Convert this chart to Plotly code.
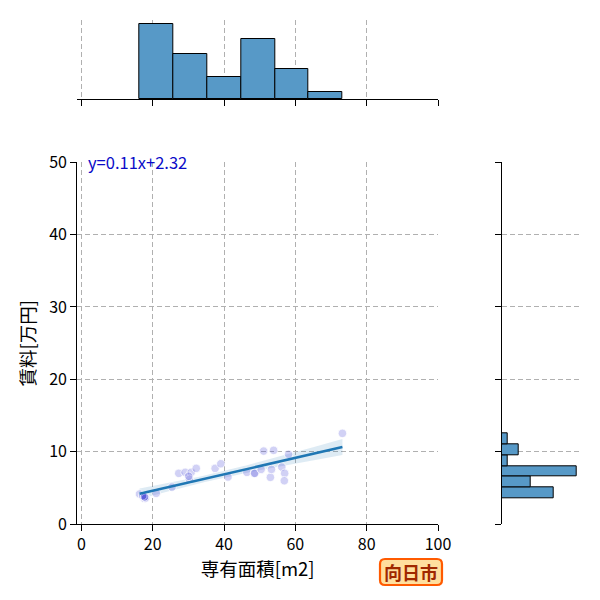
import numpy as np
import plotly.graph_objects as go

# data
area = [16.3, 17.5, 17.6, 17.3, 17.8, 18.0, 17.2, 17.7, 21.0, 25.4,
        27.3, 29.1, 30.8, 32.2, 30.3, 30.1,
        37.5, 39.1, 41.1,
        46.4, 48.5, 48.6, 50.4, 51.1, 53.0, 53.3, 53.9,
        56.2, 57.0, 56.9, 58.1,
        73.2]
rent = [4.14, 3.63, 3.55, 3.8, 3.7, 3.6, 3.9, 3.75, 4.24, 5.1,
        7.0, 7.14, 7.14, 7.69, 6.17, 6.6,
        7.69, 8.33, 6.5,
        7.14, 7.0, 7.0, 7.55, 10.08, 6.45, 7.55, 10.18,
        7.87, 7.0, 5.98, 9.63,
        12.53]
x_ticks = [0, 20, 40, 60, 80, 100]
y_ticks = [0, 10, 20, 30, 40, 50]
city = "向日市"

x = np.array(area)
y = np.array(rent)
n_bins = 6

# regression
slope, intercept = np.polyfit(x, y, 1)
xs = np.linspace(x.min(), x.max(), 60)
ys = slope * xs + intercept
resid = y - (slope * x + intercept)
s = np.sqrt(np.sum(resid ** 2) / (len(x) - 2))
sxx = np.sum((x - x.mean()) ** 2)
se = s * np.sqrt(1 / len(x) + (xs - x.mean()) ** 2 / sxx)
tval = 2.042
lo = ys - tval * se
hi = ys + tval * se

# histograms
cx, ex = np.histogram(x, bins=n_bins)
cy, ey = np.histogram(y, bins=n_bins)

FONT = "Noto Sans CJK JP, Noto Sans, sans-serif"
BAR = "#5799c7"
GRID = "#b0b0b0"
DASH = "5px,3px"

fig = go.Figure()

# CI band
fig.add_trace(go.Scatter(x=np.concatenate([xs, xs[::-1]]), y=np.concatenate([hi, lo[::-1]]),
                         fill="toself", fillcolor="rgba(31,119,180,0.15)", line=dict(width=0),
                         hoverinfo="skip", showlegend=False, xaxis="x", yaxis="y"))
# scatter
fig.add_trace(go.Scatter(x=x, y=y, mode="markers",
                         marker=dict(size=8.5, color="rgba(70,70,215,0.25)",
                                     line=dict(color="white", width=0.8)),
                         showlegend=False, xaxis="x", yaxis="y"))
# regression line
fig.add_trace(go.Scatter(x=xs, y=ys, mode="lines", line=dict(color="#1f77b4", width=2.5),
                         showlegend=False, xaxis="x", yaxis="y"))

# top histogram
fig.add_trace(go.Bar(x=(ex[:-1] + ex[1:]) / 2, y=cx, width=np.diff(ex),
                     marker=dict(color=BAR, line=dict(color="black", width=1)),
                     showlegend=False, xaxis="x2", yaxis="y2"))
# right histogram
fig.add_trace(go.Bar(y=(ey[:-1] + ey[1:]) / 2, x=cy, width=np.diff(ey), orientation="h",
                     marker=dict(color=BAR, line=dict(color="black", width=1)),
                     showlegend=False, xaxis="x3", yaxis="y3"))

W = 600.0
OFF = 8.0  # page body margin
def fx(p):
    return (p - OFF) / W
def fy(p):
    return 1 - (p - OFF) / W

common = dict(showline=True, linecolor="black", linewidth=1.2, ticks="outside",
              ticklen=6, tickwidth=1.2, tickcolor="black", zeroline=False,
              showgrid=True, gridcolor=GRID, griddash=DASH, gridwidth=1, automargin=False,
              tickfont=dict(family=FONT, size=16, color="black"))
hidden = dict(showline=False, showgrid=False, showticklabels=False, ticks="",
              zeroline=False, automargin=False)

xr = [-1.15, 100]
fig.update_layout(
    width=600, height=600,
    margin=dict(l=0, r=0, t=0, b=0, pad=0),
    paper_bgcolor="white", plot_bgcolor="white",
    font=dict(family=FONT),
    bargap=0,
    xaxis=dict(domain=[fx(77.3), fx(438)], range=xr, tickvals=x_ticks,
               title=dict(text="専有面積[m2]", font=dict(family=FONT, size=18.5, color="black"), standoff=3),
               anchor="y", **common),
    yaxis=dict(domain=[fy(524), fy(162.3)], range=[0, 50], tickvals=y_ticks,
               title=dict(text="賃料[万円]", font=dict(family=FONT, size=18.5, color="black"), standoff=8),
               anchor="x", **common),
    xaxis2=dict(domain=[fx(77.3), fx(438)], range=xr, tickvals=x_ticks, showticklabels=False,
                anchor="y2", **common),
    yaxis2=dict(domain=[fy(99), fy(20)], range=[0, 10.58], anchor="x2", **hidden),
    xaxis3=dict(domain=[fx(501.7), fx(580)], range=[0, 13.57], anchor="y3", **hidden),
    yaxis3=dict(domain=[fy(524), fy(162.3)], range=[0, 50], tickvals=y_ticks, showticklabels=False,
                anchor="x3", **common),
)

fig.add_annotation(x=1.2, y=50, xref="x", yref="y", xanchor="left", yanchor="middle",
                   text=f"y={slope:.2f}x+{intercept:.2f}", showarrow=False,
                   font=dict(family=FONT, size=16.5, color="#0a0ac8"))

# city badge
bx0, bx1, by0, by1, r = fx(380), fx(442), fy(585), fy(559), 5 / W
path = (f"M {bx0 + r},{by0} L {bx1 - r},{by0} Q {bx1},{by0} {bx1},{by0 + r} "
        f"L {bx1},{by1 - r} Q {bx1},{by1} {bx1 - r},{by1} L {bx0 + r},{by1} "
        f"Q {bx0},{by1} {bx0},{by1 - r} L {bx0},{by0 + r} Q {bx0},{by0} {bx0 + r},{by0} Z")
fig.add_shape(type="path", path=path, xref="paper", yref="paper",
              fillcolor="#ffdf9e", line=dict(color="#ff5a00", width=2.2))
fig.add_annotation(x=(bx0 + bx1) / 2, y=(by0 + by1) / 2, xref="paper", yref="paper",
                   xanchor="center", yanchor="middle",
                   text=f"<b>{city}</b>", showarrow=False,
                   font=dict(family=FONT, size=18, color="#a02800"))

fig.write_html("out.html")
